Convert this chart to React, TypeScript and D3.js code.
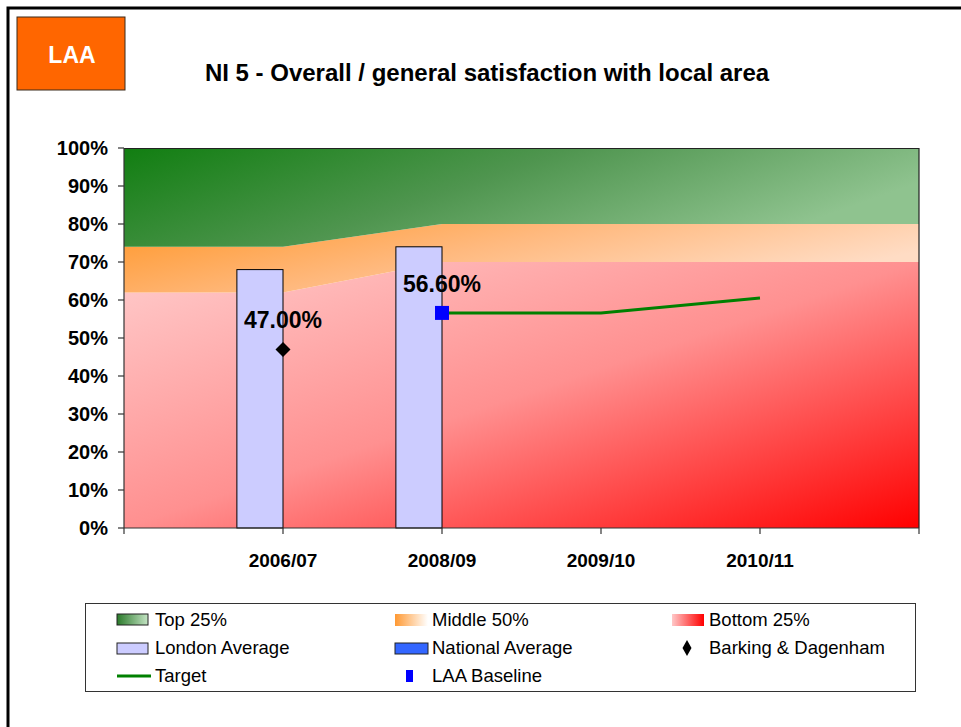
import * as d3 from 'd3';
import React from 'react';

// categories on the x axis (first and last are blank padding slots)
const categories = ['', '2006/07', '2008/09', '2009/10', '2010/11', ' '];

// stacked quartile bands (percent)
const bottom25 = [62, 62, 70, 70, 70, 70];
const middle50 = [12, 12, 10, 10, 10, 10];
const top25 = [26, 26, 20, 20, 20, 20];

const londonAverage: (number | null)[] = [null, 68, 74, null, null, null];
const nationalAverage: (number | null)[] = [null, null, null, null, null, null];
const barkingDagenham: (number | null)[] = [null, 47, null, null, null, null];
const target: (number | null)[] = [null, null, 56.6, 56.6, 60.5, null];
const laaBaseline: (number | null)[] = [null, null, 56.6, null, null, null];

const yTickValues = [0, 10, 20, 30, 40, 50, 60, 70, 80, 90, 100];

const W = 961;
const H = 727;
const margin = { top: 148, right: 42, bottom: 199, left: 124 };
const FONT = 'Arial, "Liberation Sans", Helvetica, sans-serif';

export default function App() {
  const innerW = W - margin.left - margin.right;
  const innerH = H - margin.top - margin.bottom;

  const x = d3.scalePoint<string>().domain(categories).range([0, innerW]);
  const y = d3.scaleLinear().domain([0, 100]).range([innerH, 0]);

  const rows = categories.map((c, i) => ({
    cat: c,
    bottom: bottom25[i],
    middle: middle50[i],
    top: top25[i],
  }));
  const stacked = d3.stack<any>().keys(['bottom', 'middle', 'top'])(rows);
  const area = d3
    .area<any>()
    .x((d) => x(d.data.cat) as number)
    .y0((d) => y(d[0]))
    .y1((d) => y(d[1]));
  const fills = ['url(#gBottom)', 'url(#gMiddle)', 'url(#gTop)'];

  const step = x.step();
  const barW = step * 0.29;

  const targetLine = d3
    .line<number | null>()
    .defined((d) => d !== null)
    .x((_, i) => x(categories[i]) as number)
    .y((d) => y(d as number));

  const diamond = d3.symbol(d3.symbolSquare, 112)();
  const square = d3.symbol(d3.symbolSquare, 196)();

  const legendCols = [117, 395, 672];
  const legendRows = [620, 648, 676];

  return (
    <svg
      width={W}
      height={H}
      style={{ position: 'absolute', left: 0, top: 0, background: '#fff' }}
      fontFamily={FONT}
    >
      <defs>
        <linearGradient id="gTop" x1="0" y1="0" x2="1" y2="0.35">
          <stop offset="0" stopColor="#117e11" />
          <stop offset="0.5" stopColor="#4f954f" />
          <stop offset="1" stopColor="#8fc38f" />
        </linearGradient>
        <linearGradient id="gMiddle" x1="0" y1="0" x2="1" y2="0.4">
          <stop offset="0" stopColor="#ff982c" />
          <stop offset="0.5" stopColor="#ffb97e" />
          <stop offset="1" stopColor="#ffdcc4" />
        </linearGradient>
        <linearGradient id="gBottom" x1="0" y1="0" x2="1" y2="1">
          <stop offset="0" stopColor="#ffcccc" />
          <stop offset="0.5" stopColor="#ff9090" />
          <stop offset="1" stopColor="#ff0000" />
        </linearGradient>
        <linearGradient id="lgTop" x1="0" y1="0" x2="1" y2="0">
          <stop offset="0" stopColor="#2a7a2a" />
          <stop offset="1" stopColor="#c4e4c4" />
        </linearGradient>
        <linearGradient id="lgMiddle" x1="0" y1="0" x2="1" y2="0">
          <stop offset="0" stopColor="#ff9933" />
          <stop offset="1" stopColor="#ffffff" />
        </linearGradient>
        <linearGradient id="lgBottom" x1="0" y1="0" x2="1" y2="0">
          <stop offset="0" stopColor="#ffc8c8" />
          <stop offset="1" stopColor="#ff0000" />
        </linearGradient>
      </defs>

      {/* slide frame */}
      <path d={`M8,${H + 5} L8,8 L${W + 5},8`} fill="none" stroke="#000" strokeWidth={3} />

      {/* LAA badge */}
      <rect x={17} y={17} width={108} height={73} fill="#ff6600" stroke="#3a2a1a" strokeWidth={1} />
      <text x={72} y={63} textAnchor="middle" fill="#fff" fontWeight="bold" fontSize={23}>
        LAA
      </text>

      {/* title */}
      <text x={487} y={81} textAnchor="middle" fontWeight="bold" fontSize={24} fill="#000">
        NI 5 - Overall / general satisfaction with local area
      </text>

      <g transform={`translate(${margin.left},${margin.top})`}>
        {stacked.map((s, i) => (
          <path key={s.key} d={area(s as any) || ''} fill={fills[i]} />
        ))}
        {/* plot border top/right */}
        <path d={`M0,0.5 H${innerW} V${innerH}`} fill="none" stroke="#222" strokeWidth={1.2} />

        {/* London average bars */}
        {londonAverage.map((v, i) =>
          v === null ? null : (
            <rect
              key={'l' + i}
              x={(x(categories[i]) as number) - barW}
              y={y(v)}
              width={barW}
              height={innerH - y(v)}
              fill="#ccccff"
              stroke="#000"
              strokeWidth={1}
            />
          )
        )}
        {nationalAverage.map((v, i) =>
          v === null ? null : (
            <rect
              key={'n' + i}
              x={x(categories[i]) as number}
              y={y(v)}
              width={barW}
              height={innerH - y(v)}
              fill="#3366ff"
              stroke="#000"
            />
          )
        )}

        {/* target line */}
        <path d={targetLine(target) || ''} fill="none" stroke="#008000" strokeWidth={3} />

        {/* Barking & Dagenham */}
        {barkingDagenham.map((v, i) =>
          v === null ? null : (
            <g key={'b' + i}>
              <path
                d={diamond || ''}
                transform={`translate(${x(categories[i])},${y(v)}) rotate(45)`}
                fill="#000"
              />
              <text
                x={x(categories[i]) as number}
                y={y(v) - 21}
                textAnchor="middle"
                fontWeight="bold"
                fontSize={23}
                fill="#000"
              >
                {v.toFixed(2)}%
              </text>
            </g>
          )
        )}

        {/* LAA baseline */}
        {laaBaseline.map((v, i) =>
          v === null ? null : (
            <g key={'a' + i}>
              <path d={square || ''} transform={`translate(${x(categories[i])},${y(v)})`} fill="#0000ff" />
              <text
                x={x(categories[i]) as number}
                y={y(v) - 21}
                textAnchor="middle"
                fontWeight="bold"
                fontSize={23}
                fill="#000"
              >
                {v.toFixed(2)}%
              </text>
            </g>
          )
        )}

        {/* y axis */}
        <line x1={0} y1={0} x2={0} y2={innerH} stroke="#333" strokeWidth={1.2} />
        {yTickValues.map((t) => (
          <g key={'y' + t} transform={`translate(0,${y(t)})`}>
            <line x1={-6} x2={0} stroke="#333" strokeWidth={1.2} />
            <text x={-16} dy="0.36em" textAnchor="end" fontWeight="bold" fontSize={20} fill="#000">
              {t}%
            </text>
          </g>
        ))}

        {/* x axis */}
        <line x1={0} y1={innerH} x2={innerW} y2={innerH} stroke="#333" strokeWidth={1.2} />
        {categories.map((c, i) => (
          <g key={'x' + i} transform={`translate(${x(c)},${innerH})`}>
            <line y1={0} y2={6} stroke="#333" strokeWidth={1.2} />
            <text y={39} textAnchor="middle" fontWeight="bold" fontSize={19} fill="#000">
              {c.trim()}
            </text>
          </g>
        ))}
      </g>

      {/* legend */}
      <rect x={85.5} y={603.5} width={830} height={88} fill="#fff" stroke="#333" strokeWidth={1} />
      <g fontSize={18.5} fill="#000">
        <rect x={legendCols[0]} y={legendRows[0] - 6} width={31} height={11} fill="url(#lgTop)" stroke="#222" />
        <text x={legendCols[0] + 38} y={legendRows[0]} dy="0.35em">Top 25%</text>
        <rect x={legendCols[1]} y={legendRows[0] - 6} width={33} height={12} fill="url(#lgMiddle)" />
        <text x={legendCols[1] + 37} y={legendRows[0]} dy="0.35em">Middle 50%</text>
        <rect x={legendCols[2]} y={legendRows[0] - 6} width={32} height={12} fill="url(#lgBottom)" />
        <text x={legendCols[2] + 37} y={legendRows[0]} dy="0.35em">Bottom 25%</text>

        <rect x={legendCols[0]} y={legendRows[1] - 5} width={31} height={11} fill="#ccccff" stroke="#222" />
        <text x={legendCols[0] + 38} y={legendRows[1]} dy="0.35em">London Average</text>
        <rect x={legendCols[1]} y={legendRows[1] - 5} width={33} height={11} fill="#3366ff" stroke="#222" />
        <text x={legendCols[1] + 37} y={legendRows[1]} dy="0.35em">National Average</text>
        <path d={`M687,${legendRows[1] - 8} L691.5,${legendRows[1]} L687,${legendRows[1] + 8} L682.5,${legendRows[1]} Z`} fill="#000" />
        <text x={legendCols[2] + 37} y={legendRows[1]} dy="0.35em">Barking &amp; Dagenham</text>

        <line x1={legendCols[0]} x2={legendCols[0] + 34} y1={legendRows[2]} y2={legendRows[2]} stroke="#008000" strokeWidth={3} />
        <text x={legendCols[0] + 38} y={legendRows[2]} dy="0.35em">Target</text>
        <rect x={406} y={legendRows[2] - 6} width={7} height={12} fill="#0000ff" />
        <text x={legendCols[1] + 37} y={legendRows[2]} dy="0.35em">LAA Baseline</text>
      </g>
    </svg>
  );
}
